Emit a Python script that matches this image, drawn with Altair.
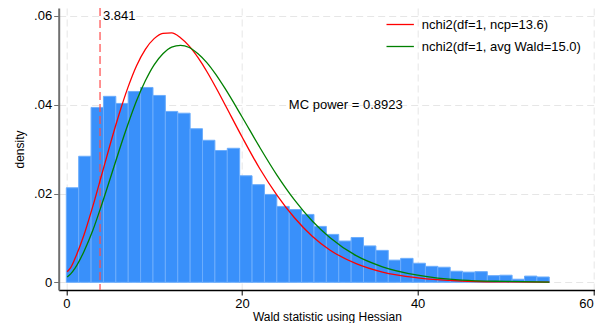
import altair as alt
import pandas as pd

# ---------------- data ----------------
bin_start = 0.0
bin_width = 1.41
hist_density = [
    0.0213, 0.0284, 0.0394, 0.0419, 0.0403, 0.0430, 0.0439, 0.0421, 0.0385, 0.0381,
    0.0346, 0.0320, 0.0297, 0.0302, 0.0240, 0.0220, 0.0198, 0.0171, 0.0164, 0.0153,
    0.0126, 0.0108, 0.0093, 0.0101, 0.0082, 0.0072, 0.0050, 0.0054, 0.0043, 0.0036,
    0.0034, 0.0025, 0.0023, 0.0024, 0.0015, 0.0016, 0.0007, 0.0014, 0.0012,
]

curve_x = [0.1, 0.5, 1, 2, 3, 4, 5, 6, 7, 8, 9, 10, 11, 12, 13, 14, 15, 16, 17, 18,
           20, 22, 24, 26, 28, 30, 33, 36, 40, 45, 50, 55]
red_y = [0.0024, 0.0033, 0.0054, 0.0106, 0.0170, 0.0240, 0.0311, 0.0378, 0.0438, 0.0488,
         0.0525, 0.0549, 0.0561, 0.0562, 0.0551, 0.0532, 0.0506, 0.0475, 0.0440, 0.0403,
         0.0328, 0.0257, 0.0196, 0.0145, 0.0104, 0.0073, 0.0042, 0.0023, 0.0010, 0.0003,
         0.0001, 0.00003]
green_y = [0.0012, 0.0019, 0.0032, 0.0069, 0.0116, 0.0173, 0.0234, 0.0296, 0.0355, 0.0409,
           0.0454, 0.0490, 0.0515, 0.0530, 0.0534, 0.0529, 0.0515, 0.0495, 0.0469, 0.0439,
           0.0373, 0.0305, 0.0241, 0.0185, 0.0138, 0.0101, 0.0060, 0.0035, 0.0016, 0.0005,
           0.0002, 0.00005]
series_names = ["nchi2(df=1, ncp=13.6)", "nchi2(df=1, avg Wald=15.0)"]
series_colors = ["#ff0000", "#008000"]

crit_value = 3.841
note_x = [3.841, 25.0]
note_y = [0.06, 0.04]
note_text = ["3.841", "MC power = 0.8923"]

x_ticks = [0, 20, 40, 60]
y_ticks = [0, 0.02, 0.04, 0.06]
x_domain = [-0.865, 60.196]
y_domain = [-0.00173, 0.0618]

FONT = "Liberation Sans"

# ---------------- tables ----------------
hist_df = pd.DataFrame({
    "x0": [bin_start + i * bin_width for i in range(len(hist_density))],
    "x1": [bin_start + (i + 1) * bin_width for i in range(len(hist_density))],
    "density": hist_density,
})
curve_df = pd.concat([
    pd.DataFrame({"x": curve_x, "y": red_y, "series": series_names[0], "order": range(len(curve_x))}),
    pd.DataFrame({"x": curve_x, "y": green_y, "series": series_names[1], "order": range(len(curve_x))}),
])
note_df = pd.DataFrame({"x": note_x, "y": note_y, "t": note_text})

xscale = alt.Scale(domain=x_domain, nice=False, zero=False)
yscale = alt.Scale(domain=y_domain, nice=False, zero=False)

x_axis = alt.Axis(
    values=x_ticks, title="Wald statistic using Hessian", grid=True,
    labelFlush=False, tickSize=5, labelPadding=2, titlePadding=1.5,
    labelAlign=alt.expr("datum.value == 60 ? 'right' : 'center'"),
    domainColor="black", domainWidth=1.5, tickColor="black",
)
y_axis = alt.Axis(
    values=y_ticks, title="density", grid=True,
    labelExpr="datum.value == 0 ? '0' : substring(format(datum.value, '.2f'), 1)",
    tickSize=5, labelPadding=2, titlePadding=7,
    domainColor="#707070", domainWidth=2, tickColor="#707070",
)

bars = alt.Chart(hist_df).mark_bar(
    fill="#3990fa", stroke="#6cadfc", strokeWidth=1
).encode(
    x=alt.X("x0:Q", scale=xscale, axis=x_axis),
    x2="x1:Q",
    y=alt.Y("density:Q", scale=yscale, axis=y_axis),
    y2=alt.datum(0),
)

vline = alt.Chart(pd.DataFrame({"v": [crit_value]})).mark_rule(
    color="#ff4a4a", strokeDash=[8, 4], strokeWidth=1.2
).encode(x=alt.X("v:Q", scale=xscale))

curves = alt.Chart(curve_df).mark_line(strokeWidth=1.3, interpolate="monotone").encode(
    x=alt.X("x:Q", scale=xscale),
    y=alt.Y("y:Q", scale=yscale),
    order="order:Q",
    color=alt.Color(
        "series:N",
        scale=alt.Scale(domain=series_names, range=series_colors),
        legend=alt.Legend(
            title=None, orient="none", legendX=327, legendY=2,
            symbolType="stroke", symbolSize=750, symbolStrokeWidth=1.3,
            labelFontSize=13, labelFont=FONT, labelColor="black",
            labelOffset=7, rowPadding=-3.5, padding=0,
        ),
    ),
)

notes = alt.Chart(note_df).mark_text(
    align="left", baseline="middle", dx=3, fontSize=13, font=FONT, color="black"
).encode(
    x=alt.X("x:Q", scale=xscale),
    y=alt.Y("y:Q", scale=yscale),
    text="t:N",
)

chart = alt.layer(bars, vline, curves, notes).properties(
    width=536.3, height=282,
    autosize=alt.AutoSizeParams(type="none"),
    padding={"left": 50.7, "top": 0, "right": 0, "bottom": 33},
    background="white",
).configure_view(stroke=None).configure_axis(
    labelFont=FONT, titleFont=FONT, labelFontSize=13, titleFontSize=12,
    titleFontWeight="normal", labelColor="black", titleColor="black",
    tickWidth=1,
    gridColor="#e6e6e6", gridDash=[7, 4], gridWidth=1,
)

chart.save("out.html", embed_options={"renderer": "svg", "actions": False})
